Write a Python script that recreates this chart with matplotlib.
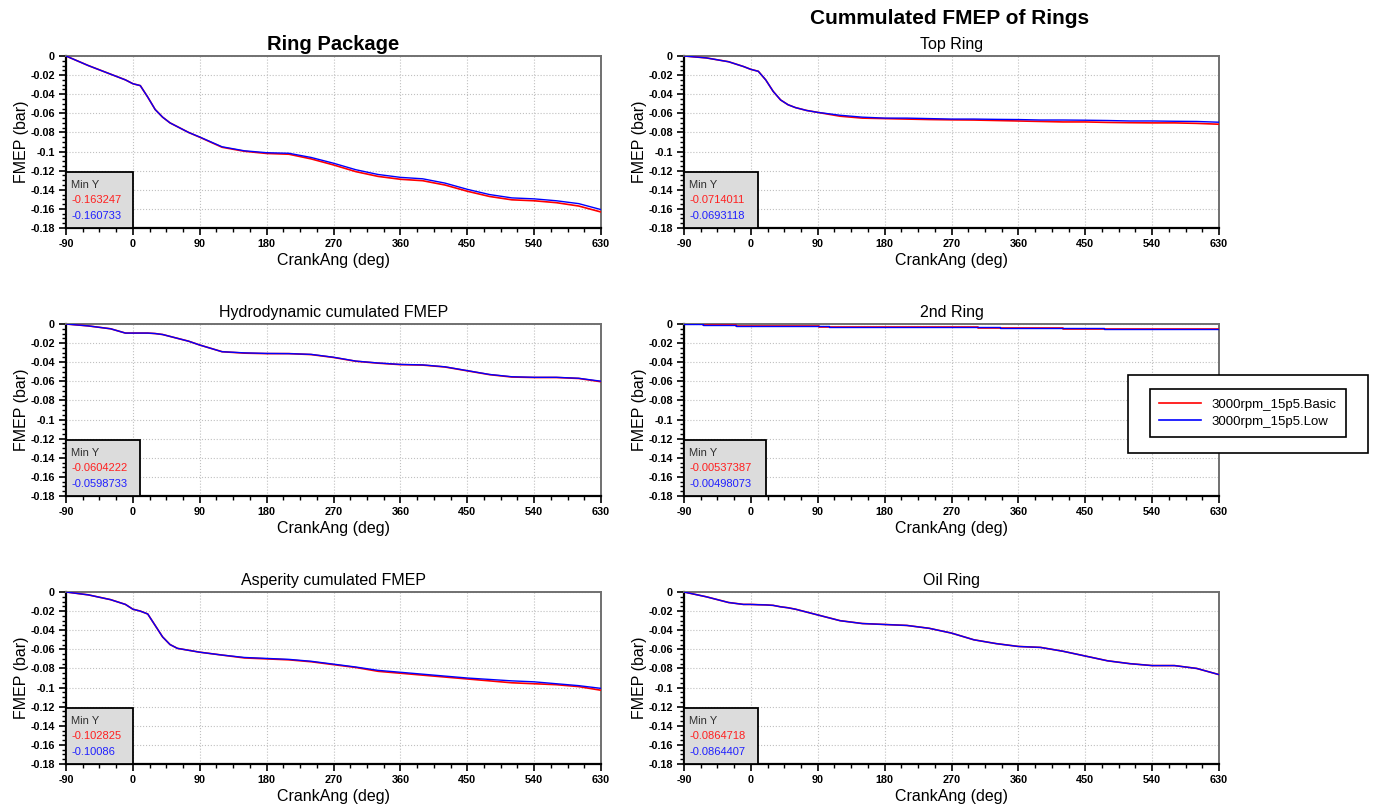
import matplotlib
matplotlib.use("Agg")
import matplotlib.pyplot as plt
from matplotlib.patches import Rectangle
from matplotlib.lines import Line2D
from matplotlib.ticker import MultipleLocator, FuncFormatter

plt.rcParams['font.family'] = ['Liberation Sans', 'DejaVu Sans']
plt.rcParams['axes.unicode_minus'] = False

# ---- data (crank angle in deg, FMEP in bar) ----
ang = [-90, -60, -30, -10, 0, 10, 20, 30, 40, 50, 60, 75, 90, 120, 150, 180,
       210, 240, 270, 300, 330, 360, 390, 420, 450, 480, 510, 540, 570, 600, 630]

pkg_basic = [0, -0.010, -0.019, -0.025, -0.029, -0.031, -0.043, -0.056, -0.064, -0.070,
             -0.074, -0.080, -0.085, -0.0955, -0.0997, -0.102, -0.1028, -0.1077, -0.114,
             -0.121, -0.126, -0.129, -0.1305, -0.135, -0.1415, -0.147, -0.1505, -0.1515,
             -0.1535, -0.157, -0.163247]
pkg_low = [0, -0.010, -0.019, -0.025, -0.029, -0.031, -0.043, -0.056, -0.064, -0.070,
           -0.074, -0.080, -0.0848, -0.095, -0.0992, -0.1012, -0.1018, -0.1062, -0.1122,
           -0.119, -0.124, -0.127, -0.1285, -0.133, -0.1395, -0.145, -0.1485, -0.1495,
           -0.1515, -0.1545, -0.160733]

hyd_basic = [0, -0.002, -0.005, -0.0095, -0.0095, -0.0095, -0.0095, -0.010, -0.011, -0.013,
             -0.015, -0.018, -0.022, -0.029, -0.0305, -0.031, -0.031, -0.032, -0.035,
             -0.039, -0.041, -0.0425, -0.043, -0.045, -0.049, -0.053, -0.0555, -0.056,
             -0.056, -0.057, -0.0604222]
hyd_low = [0, -0.002, -0.005, -0.0095, -0.0095, -0.0095, -0.0095, -0.010, -0.011, -0.013,
           -0.015, -0.018, -0.022, -0.029, -0.0302, -0.0308, -0.031, -0.0318, -0.0348,
           -0.0388, -0.0408, -0.0423, -0.0428, -0.0448, -0.0488, -0.0528, -0.0552, -0.0558,
           -0.0558, -0.0568, -0.0598733]

asp_basic = [0, -0.003, -0.008, -0.013, -0.018, -0.020, -0.023, -0.035, -0.047, -0.055,
             -0.059, -0.061, -0.063, -0.066, -0.069, -0.070, -0.071, -0.073, -0.076,
             -0.079, -0.083, -0.085, -0.087, -0.089, -0.091, -0.093, -0.095, -0.096,
             -0.097, -0.099, -0.102825]
asp_low = [0, -0.003, -0.008, -0.013, -0.018, -0.020, -0.023, -0.035, -0.047, -0.055,
           -0.059, -0.061, -0.063, -0.066, -0.0685, -0.0695, -0.0705, -0.0725, -0.0755,
           -0.0785, -0.082, -0.084, -0.086, -0.088, -0.090, -0.0915, -0.093, -0.094,
           -0.096, -0.098, -0.10086]

top_basic = [0, -0.002, -0.006, -0.011, -0.014, -0.016, -0.025, -0.037, -0.046, -0.051,
             -0.054, -0.057, -0.059, -0.063, -0.065, -0.0655, -0.066, -0.0665, -0.0668,
             -0.067, -0.0675, -0.068, -0.0685, -0.069, -0.069, -0.0695, -0.0698, -0.070,
             -0.070, -0.0705, -0.0714011]
top_low = [0, -0.002, -0.006, -0.011, -0.014, -0.016, -0.025, -0.037, -0.046, -0.051,
           -0.054, -0.057, -0.059, -0.062, -0.064, -0.065, -0.065, -0.0655, -0.066,
           -0.066, -0.0663, -0.0665, -0.067, -0.067, -0.0672, -0.0675, -0.068, -0.068,
           -0.0683, -0.0685, -0.0693118]

oil_basic = [0, -0.005, -0.011, -0.013, -0.013, -0.0133, -0.0135, -0.014, -0.0155, -0.0165,
             -0.018, -0.021, -0.024, -0.030, -0.033, -0.034, -0.035, -0.038, -0.043,
             -0.050, -0.054, -0.057, -0.058, -0.062, -0.067, -0.072, -0.075, -0.077,
             -0.077, -0.080, -0.0864718]
oil_low = list(oil_basic[:-1]) + [-0.0864407]

# 2nd ring is stepwise
sec_ang_basic = [-90, -65, -20, 92, 305, 420, 475, 630]
sec_basic = [0, -0.001, -0.002, -0.003, -0.004, -0.005, -0.0052, -0.00537387]
sec_ang_low = [-90, -65, -20, 105, 335, 475, 630]
sec_low = [0, -0.001, -0.002, -0.003, -0.004, -0.0048, -0.00498073]

labels = ['3000rpm_15p5.Basic', '3000rpm_15p5.Low']
min_basic = ['-0.163247', '-0.0604222', '-0.102825', '-0.0714011', '-0.00537387', '-0.0864718']
min_low = ['-0.160733', '-0.0598733', '-0.10086', '-0.0693118', '-0.00498073', '-0.0864407']

W, H = 1376, 809
fig = plt.figure(figsize=(W / 100, H / 100), dpi=100)


def make_ax(x0, y_top, title, bold=False):
    ax = fig.add_axes([x0 / W, 1 - (y_top + 172) / H, 535 / W, 172 / H])
    ax.set_xlim(-90, 630)
    ax.set_ylim(-0.18, 0)
    ax.xaxis.set_major_locator(MultipleLocator(90))
    ax.xaxis.set_minor_locator(MultipleLocator(22.5))
    ax.yaxis.set_major_locator(MultipleLocator(0.02))
    ax.yaxis.set_minor_locator(MultipleLocator(0.005))
    ax.yaxis.set_major_formatter(FuncFormatter(lambda v, p: '0' if abs(v) < 1e-9 else f'{v:g}'))
    ax.grid(True, which='major', color='#c0c0c0', linestyle=':', linewidth=0.8)
    ax.tick_params(which='major', length=5, width=1.2, labelsize=7.8, pad=3)
    ax.tick_params(which='minor', length=3, width=1.0)
    for lab in ax.get_xticklabels() + ax.get_yticklabels():
        lab.set_fontweight('bold')
    ax.spines['left'].set_linewidth(1.6)
    ax.spines['bottom'].set_linewidth(1.6)
    ax.spines['top'].set_color('#707070')
    ax.spines['right'].set_color('#707070')
    ax.spines['top'].set_linewidth(1.4)
    ax.spines['right'].set_linewidth(1.4)
    ax.set_xlabel('CrankAng (deg)', fontsize=11.5, labelpad=3)
    ax.set_ylabel('FMEP (bar)', fontsize=11.5, labelpad=1)
    if bold:
        ax.set_title(title, fontsize=14.5, fontweight='bold', pad=4)
    else:
        ax.set_title(title, fontsize=11.5, pad=5)
    return ax


def minbox(ax, width_px, vb, vl):
    w = width_px / 535
    h = 56 / 172
    ax.add_patch(Rectangle((0, 0), w, h, transform=ax.transAxes, facecolor='#dcdcdc',
                           edgecolor='black', linewidth=1.3, zorder=5, clip_on=False))
    x = 5 / 535
    ax.text(x, h - 13 / 172, 'Min Y', transform=ax.transAxes, fontsize=8,
            color='#303030', va='center', zorder=6)
    ax.text(x, h - 28 / 172, vb, transform=ax.transAxes, fontsize=8,
            color='#ff2020', va='center', zorder=6)
    ax.text(x, h - 44 / 172, vl, transform=ax.transAxes, fontsize=8,
            color='#2020ff', va='center', zorder=6)


panels = [
    (66, 56, 'Ring Package', True, ang, pkg_basic, ang, pkg_low, 67, False),
    (66, 324, 'Hydrodynamic cumulated FMEP', False, ang, hyd_basic, ang, hyd_low, 74, False),
    (66, 592, 'Asperity cumulated FMEP', False, ang, asp_basic, ang, asp_low, 67, False),
    (684, 56, 'Top Ring', False, ang, top_basic, ang, top_low, 74, False),
    (684, 324, '2nd Ring', False, sec_ang_basic, sec_basic, sec_ang_low, sec_low, 82, True),
    (684, 592, 'Oil Ring', False, ang, oil_basic, ang, oil_low, 74, False),
]

for i, (x0, yt, title, bold, xb, yb, xl, yl, bw, steps) in enumerate(panels):
    ax = make_ax(x0, yt, title, bold)
    ds = 'steps-post' if steps else 'default'
    ax.plot(xb, yb, color='#ff0000', linewidth=1.2, drawstyle=ds, zorder=3)
    ax.plot(xl, yl, color='#0000ff', linewidth=1.0, drawstyle=ds, zorder=4)
    minbox(ax, bw, min_basic[i], min_low[i])

fig.text(950 / W, 1 - 18 / H, 'Cummulated FMEP of Rings', fontsize=15,
         fontweight='bold', ha='center', va='center')

# legend with outer frame
fig.patches.append(Rectangle((1128 / W, 1 - 453 / H), 240 / W, 78 / H,
                             transform=fig.transFigure, facecolor='white',
                             edgecolor='black', linewidth=1.2, zorder=10))
handles = [Line2D([], [], color='#ff0000', linewidth=1.2),
           Line2D([], [], color='#0000ff', linewidth=1.2)]
leg = fig.legend(handles, labels, loc='center', bbox_to_anchor=(1248 / W, 1 - 413 / H),
                 fontsize=9.5, fancybox=False, edgecolor='black', framealpha=1,
                 handlelength=3.2, borderpad=0.7, labelspacing=0.35)
leg.get_frame().set_linewidth(1.2)
leg.set_zorder(11)

fig.savefig('out.png', dpi=100)
